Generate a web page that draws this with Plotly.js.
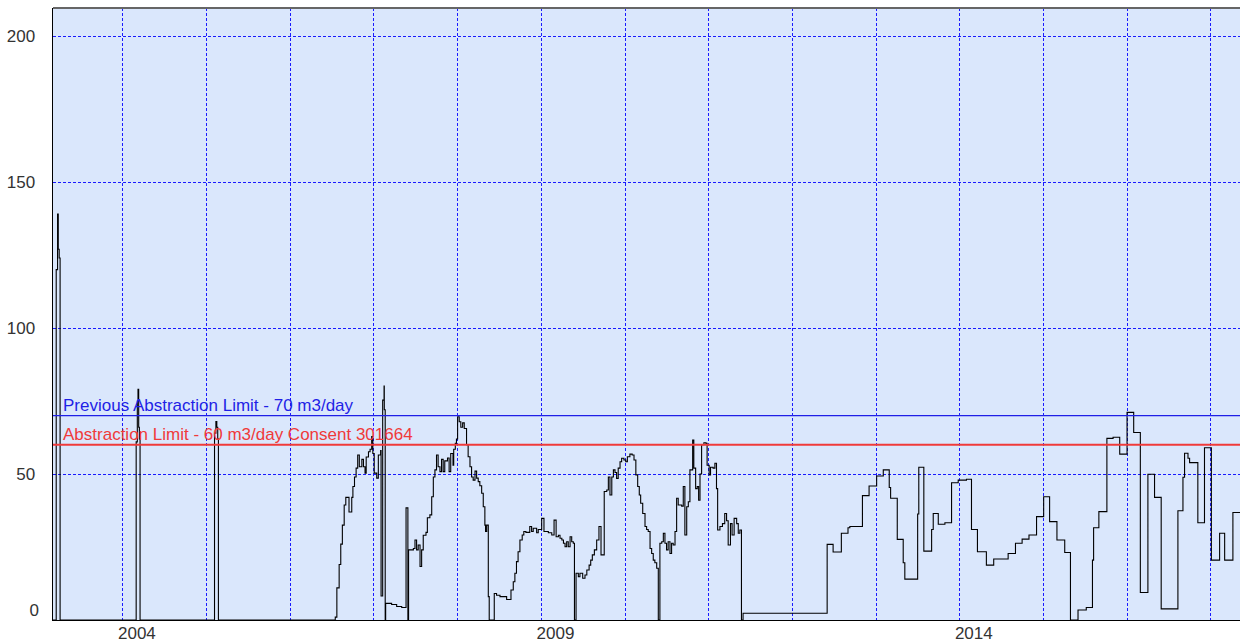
<!DOCTYPE html>
<html>
<head>
<meta charset="utf-8">
<script src="https://cdn.plot.ly/plotly-3.0.1.min.js"></script>
<style>
  html, body { margin: 0; padding: 0; background: #ffffff; }
  #chart { width: 1240px; height: 643px; }
</style>
</head>
<body>
<div id="chart"></div>
<script>
// Daily abstraction record (m3/day), drawn as a step series.
const sampleDates = [
  "2003-03-01","2003-03-16","2003-03-22","2003-03-25","2003-03-29","2003-04-02",
  "2004-02-28","2004-03-04","2004-03-07","2004-03-10","2004-03-13","2004-03-16",
  "2005-02-04","2005-02-10","2005-02-14","2005-02-18","2005-02-21",
  "2006-07-16","2006-07-23","2006-08-02","2006-08-09","2006-08-16","2006-08-24","2006-08-31",
  "2006-09-14","2006-09-26","2006-10-01","2006-10-08","2006-10-15","2006-10-22","2006-10-29",
  "2006-11-09","2006-11-16","2006-11-23","2006-11-28","2006-12-08","2006-12-15","2006-12-22","2006-12-27",
  "2007-01-02","2007-01-13","2007-01-20","2007-01-30","2007-02-01","2007-02-08","2007-02-14","2007-02-15",
  "2007-02-19","2007-02-21","2007-03-19","2007-04-10","2007-05-02","2007-05-21","2007-05-29","2007-06-01",
  "2007-06-22","2007-06-29","2007-07-06","2007-07-13","2007-07-21","2007-07-28","2007-08-04","2007-08-16",
  "2007-08-22","2007-09-02","2007-09-10","2007-09-17","2007-09-24","2007-10-01","2007-10-08","2007-10-16",
  "2007-10-23","2007-10-30","2007-11-06","2007-11-18","2007-11-25","2007-12-02","2007-12-12","2007-12-15",
  "2007-12-22","2007-12-27",
  "2008-01-01","2008-01-08","2008-01-15","2008-01-23","2008-01-30","2008-02-09","2008-02-16","2008-02-24",
  "2008-03-02","2008-03-09","2008-03-17","2008-03-24","2008-03-31","2008-04-07","2008-04-15","2008-04-22",
  "2008-04-29","2008-05-02","2008-05-07","2008-05-14","2008-05-18","2008-06-09","2008-06-19","2008-07-04",
  "2008-08-02","2008-08-21","2008-08-31","2008-09-07","2008-09-14","2008-09-21","2008-09-29","2008-10-09",
  "2008-10-16","2008-10-25","2008-11-11","2008-11-19","2008-11-26","2008-12-11","2008-12-18",
  "2009-01-02","2009-01-12","2009-01-31","2009-02-15","2009-02-25","2009-03-06","2009-03-16","2009-03-23",
  "2009-03-31","2009-04-07","2009-04-14","2009-04-21","2009-04-28","2009-05-06","2009-05-13","2009-05-20",
  "2009-05-25","2009-06-01","2009-06-11","2009-06-18","2009-06-30","2009-07-10","2009-07-18","2009-07-28",
  "2009-08-04","2009-08-11","2009-08-20","2009-08-30","2009-09-09","2009-09-18","2009-10-02","2009-10-13",
  "2009-10-20","2009-10-27","2009-11-04","2009-11-11","2009-11-18","2009-11-25","2009-12-02","2009-12-10",
  "2009-12-17","2009-12-27",
  "2010-01-04","2010-01-11","2010-01-22","2010-02-01","2010-02-09","2010-02-17","2010-02-25","2010-03-04",
  "2010-03-10","2010-03-19","2010-03-29","2010-04-05","2010-04-12","2010-04-20","2010-04-27","2010-05-04",
  "2010-05-11","2010-05-19","2010-05-26","2010-06-02","2010-06-10","2010-06-17","2010-06-24","2010-07-01",
  "2010-07-08","2010-07-16","2010-07-23","2010-07-30","2010-08-07","2010-08-14","2010-08-21","2010-09-05",
  "2010-09-12","2010-09-19","2010-09-27","2010-10-04","2010-10-11","2010-10-23","2010-10-28","2010-11-05",
  "2010-11-12","2010-11-18","2010-11-24","2010-12-01","2010-12-11","2010-12-20","2010-12-25",
  "2011-01-03","2011-01-09","2011-01-20","2011-01-28","2011-02-04","2011-02-09","2011-02-19","2011-03-02",
  "2011-03-12","2011-03-20","2011-03-27","2011-04-06","2011-04-13","2011-04-22","2011-05-03","2011-05-10",
  "2011-05-17","2011-05-24","2011-05-31",
  "2012-06-01","2012-06-27","2012-08-02","2012-08-31","2012-09-08","2012-11-02","2012-12-01",
  "2013-01-03","2013-02-01","2013-02-27","2013-03-05","2013-04-03","2013-04-29","2013-05-06","2013-07-01",
  "2013-07-06","2013-07-28","2013-08-31","2013-09-07","2013-09-29","2013-10-28","2013-11-26","2013-12-25",
  "2014-01-30","2014-02-21","2014-03-19","2014-04-27","2014-05-29","2014-07-31","2014-09-01","2014-09-30",
  "2014-10-30","2014-12-02",
  "2015-01-02","2015-01-28","2015-03-01","2015-04-04","2015-04-29","2015-06-01","2015-07-07","2015-08-03",
  "2015-08-08","2015-08-31","2015-10-05","2015-11-01","2015-11-30",
  "2016-01-01","2016-01-30","2016-02-28","2016-04-01","2016-04-30","2016-05-29","2016-08-10","2016-09-01",
  "2016-09-08","2016-09-23","2016-09-30","2016-11-05","2016-12-04",
  "2017-01-03","2017-02-08","2017-03-02","2017-04-07","2017-05-31"
];

const dailyVolume = [
  0,120,139,127,124,0,
  61,75,79,66,62,0,
  64,68,66,62,0,
  1,11,19,26,32.5,39.4,42,
  37,42,45.7,49,52,56.5,52.5,
  55,52.5,50.3,55.8,57.6,58.5,62.8,57,
  50.3,48.6,56.5,58,8.2,75.3,80.1,72,
  0,5.7,5.3,4.6,4.3,38.4,0,24,
  24.5,27.4,24,25.7,18.3,24,29,30,
  35,36,42.2,49,51.4,56.5,52.5,50.8,
  55,50.8,54.5,55.5,50.8,57,53,58.5,
  60.5,62,
  69.6,67.9,66,67.5,65.6,60,55.9,52.5,
  49,47.9,51,48.6,47.4,46,43.4,38.8,
  32.5,30.3,32.5,8,0,9.1,8.5,8,
  7,10.3,13.1,16,20,23.4,27.4,29.1,
  30.3,30,32,30.3,31.4,29.9,31,
  34.8,30.3,29.9,29.1,34.2,28.5,29,28,
  27.4,26.3,25.1,26.8,25.1,28.5,26.8,26.3,
  0,16,14.8,16,14.3,15.4,17.1,18.8,
  20.5,22.3,24,27.4,32,22.3,44,44.5,
  49,42.8,49,51.4,50.5,48.5,52,54.2,
  55.4,54.8,
  54.2,55.9,56.8,56.5,54.8,49.7,45.7,42.8,
  40,36.5,32,31,30.3,24.5,22.8,20.5,
  19.6,17.7,0,26.3,26.8,29.7,26.3,24,
  26.8,22.8,26.3,25.7,30.3,41.7,39.4,39,
  45.7,29.1,38.8,40.5,51.4,61.6,52,45,
  45.7,41,50,60,60.7,60.5,53,
  49.7,52.3,52,53.7,45,30.8,32,33,
  36.5,34,25.7,33,29.1,34.8,33,29.7,
  30.8,0,2.3,
  25.9,23.3,29.7,31.6,32,42.6,45.9,
  49.3,51.4,45.4,41.7,27.6,19.6,14,36.3,
  52.3,23.6,31,36.5,32.8,33.3,47,47.9,
  48.2,31,23.4,18.8,20.9,22.8,26.3,27.7,
  29.1,35.4,
  42.2,33.7,27.4,23.1,0,3.4,4.3,20.5,
  31.6,37.1,62.2,62.6,56.8,
  71.1,64.2,9.4,49.9,42,3.8,37.4,48.9,
  57.1,55.4,53.9,33.3,59,
  20.5,29.7,20.5,36.8,36.8
];

// Consent limits and their captions
const limitValues = [70, 60];
const limitLabels = [
  "Previous Abstraction Limit - 70 m3/day",
  "Abstraction Limit - 60 m3/day Consent 301664"
];
const limitColors = ["#1f1fe6", "#f03a3a"];
const limitWidths = [1.2, 2];

// Yearly gridlines, labelled every fifth year
const yearTicks = ["2004-01-01","2005-01-01","2006-01-01","2007-01-01","2008-01-01","2009-01-01",
  "2010-01-01","2011-01-01","2012-01-01","2013-01-01","2014-01-01","2015-01-01","2016-01-01","2017-01-01"];
const yearLabels = ["2004","","","","","2009","","","","","2014","","",""];
const volumeTicks = [50, 100, 150, 200];

const FONT = "Liberation Sans, Arial, sans-serif";
const GRID = "#1a1aff";
const Y_RANGE = [0, 209.6];

const trace = {
  type: "scatter",
  mode: "lines",
  x: sampleDates,
  y: dailyVolume,
  line: { shape: "hv", color: "#000000", width: 1.1 },
  hoverinfo: "x+y",
  showlegend: false
};

const shapes = limitValues.map((v, i) => ({
  type: "line", xref: "paper", x0: 0, x1: 1, yref: "y", y0: v, y1: v,
  line: { color: limitColors[i], width: limitWidths[i] }, layer: "above"
}));
// plot frame top edge
shapes.push({
  type: "line", xref: "paper", yref: "paper", x0: 0, x1: 1, y0: 1, y1: 1,
  line: { color: "#666666", width: 2 }
});

const annotations = limitValues.map((v, i) => ({
  xref: "paper", x: 0, xanchor: "left", xshift: 8,
  yref: "y", y: v, yanchor: "middle", yshift: 10,
  text: limitLabels[i], showarrow: false,
  font: { family: FONT, size: 17, color: limitColors[i] }
}));

const layout = {
  width: 1240,
  height: 643,
  margin: { l: 53, r: 0, t: 8, b: 23, pad: 0 },
  paper_bgcolor: "#ffffff",
  plot_bgcolor: "#dae7fc",
  font: { family: FONT, size: 17, color: "#333333" },
  showlegend: false,
  xaxis: {
    type: "date",
    range: ["2003-03-02", "2017-05-08"],
    tickmode: "array",
    tickvals: yearTicks,
    ticktext: yearLabels,
    ticks: "",
    ticklabelshift: 14,
    ticklabelstandoff: -2,
    showgrid: true,
    gridcolor: GRID,
    gridwidth: 1,
    griddash: "3px,2px",
    showline: true,
    linecolor: "#000000",
    linewidth: 1,
    zeroline: false,
    tickfont: { family: FONT, size: 17, color: "#333333" }
  },
  yaxis: {
    range: Y_RANGE,
    tickmode: "array",
    tickvals: volumeTicks,
    ticks: "",
    ticklabelstandoff: 13,
    showgrid: true,
    gridcolor: GRID,
    gridwidth: 1,
    griddash: "3px,2px",
    showline: true,
    linecolor: "#000000",
    linewidth: 1.5,
    zeroline: false,
    tickfont: { family: FONT, size: 17, color: "#333333" }
  },
  yaxis2: {
    overlaying: "y",
    side: "left",
    range: Y_RANGE,
    tickmode: "array",
    tickvals: [0],
    ticktext: ["0"],
    ticks: "",
    ticklabelstandoff: 13,
    ticklabelshift: -10,
    showgrid: false,
    showline: false,
    zeroline: false,
    tickfont: { family: FONT, size: 17, color: "#333333" }
  },
  shapes: shapes,
  annotations: annotations
};

// invisible companion trace so the zero label axis is drawn
const zeroAxisTrace = {
  type: "scatter", mode: "lines", x: [sampleDates[0]], y: [0],
  yaxis: "y2", hoverinfo: "skip", showlegend: false, line: { width: 0 }
};

Plotly.newPlot("chart", [trace, zeroAxisTrace], layout, { displayModeBar: false, staticPlot: true });
</script>
</body>
</html>
